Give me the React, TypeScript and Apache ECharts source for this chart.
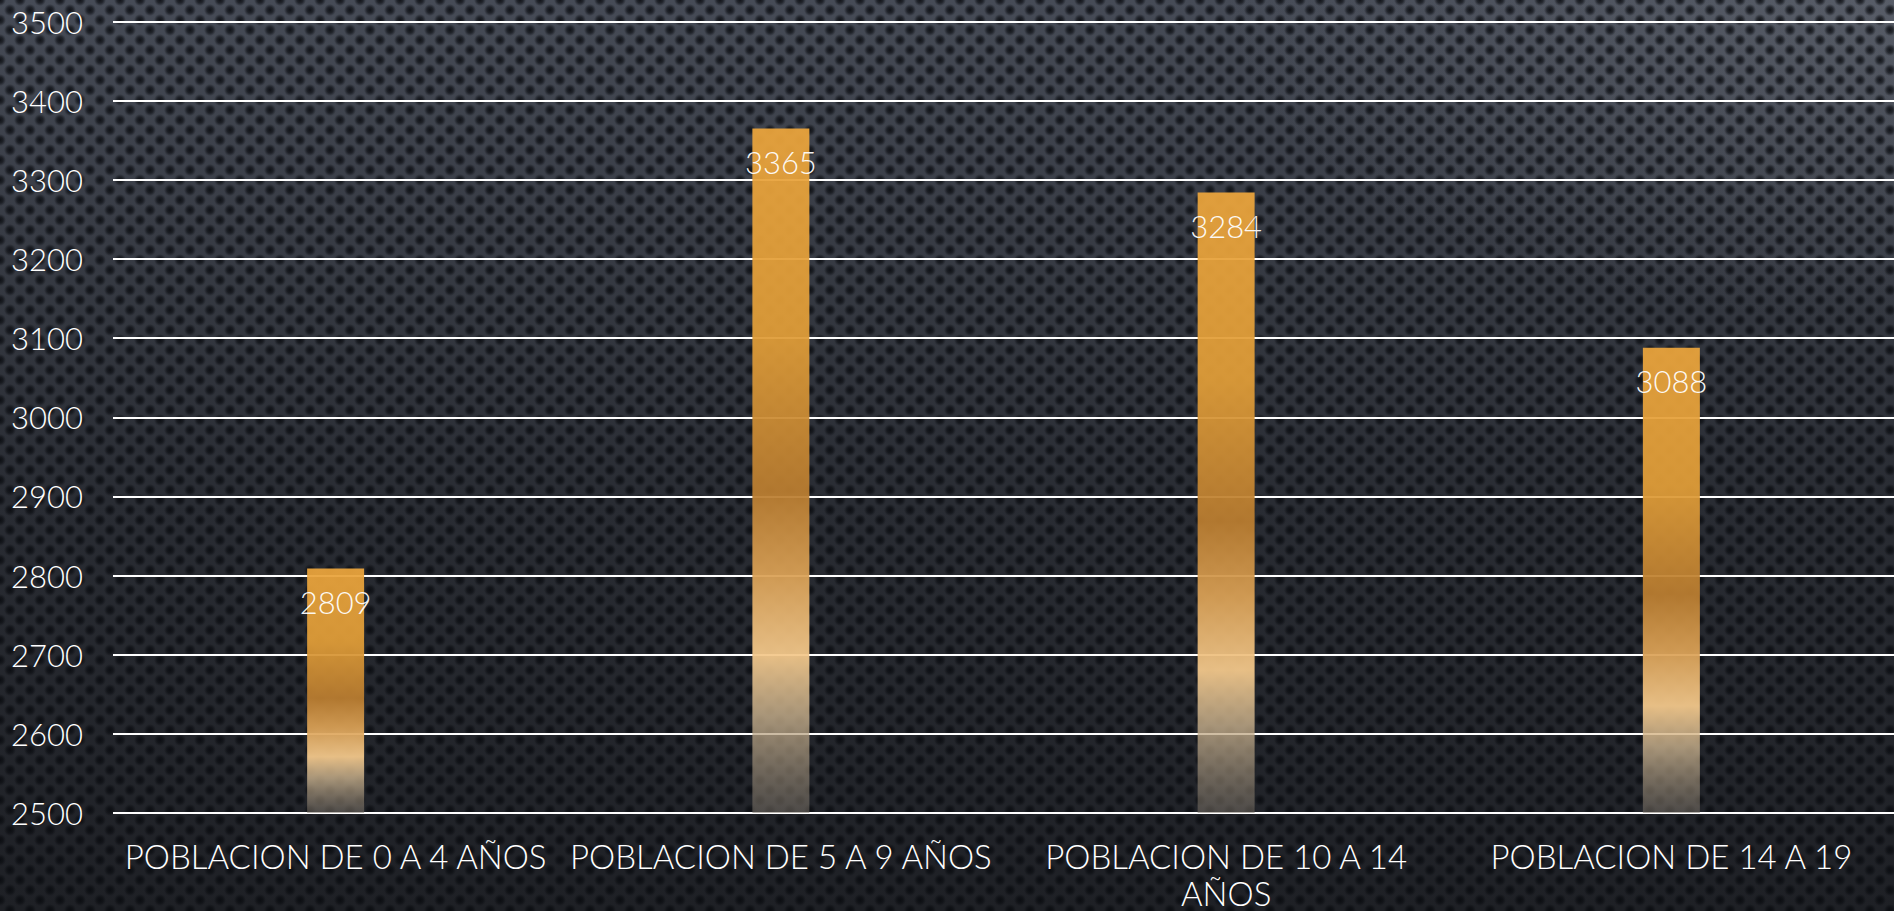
import React, { useEffect, useRef } from "react";
import * as echarts from "echarts";

const categories = [
  "POBLACION DE 0 A 4 AÑOS",
  "POBLACION DE 5 A 9 AÑOS",
  "POBLACION DE 10 A 14\nAÑOS",
  "POBLACION DE 14 A 19",
];
const values = [2809, 3365, 3284, 3088];
const yMin = 2500;
const yMax = 3500;
const yStep = 100;

const FONT = "Lato, 'Noto Sans', sans-serif";

export default function App() {
  const ref = useRef<HTMLDivElement>(null);
  useEffect(() => {
    if (!ref.current) return;
    const chart = echarts.init(ref.current, null, { renderer: "svg" });
    chart.setOption({
      animation: false,
      backgroundColor: "transparent",
      grid: { left: 113, right: 0, top: 21.7, bottom: 95.3, containLabel: false },
      xAxis: {
        type: "category",
        data: categories,
        axisLine: { show: false },
        axisTick: { show: false },
        axisLabel: {
          color: "#ffffff",
          fontFamily: FONT,
          fontWeight: 300,
          fontSize: 33,
          lineHeight: 37,
          margin: 24,
          interval: 0,
        },
      },
      yAxis: {
        type: "value",
        min: yMin,
        max: yMax,
        interval: yStep,
        axisLine: { show: false },
        axisTick: { show: false },
        axisLabel: {
          color: "#ffffff",
          fontFamily: FONT,
          fontWeight: 300,
          fontSize: 31,
          margin: 30,
          formatter: (v: number) => String(v),
        },
        splitLine: { lineStyle: { color: "#ffffff", width: 2 } },
      },
      series: [
        {
          type: "bar",
          data: values,
          barWidth: "12.8%",
          itemStyle: {
            opacity: 0.94,
            color: new echarts.graphic.LinearGradient(0, 0, 0, 1, [
              { offset: 0, color: "#EAA43C" },
              { offset: 0.3, color: "#E09D38" },
              { offset: 0.53, color: "#BA7D30" },
              { offset: 0.65, color: "#D9A055" },
              { offset: 0.77, color: "#F3C88B" },
              { offset: 0.86, color: "rgba(200,176,140,0.85)" },
              { offset: 1, color: "rgba(120,112,102,0.55)" },
            ]),
          },
          label: {
            show: true,
            position: "insideTop",
            distance: 18,
            color: "#ffffff",
            fontFamily: FONT,
            fontWeight: 300,
            fontSize: 31,
          },
        },
      ],
    });
    return () => chart.dispose();
  }, []);

  const bg = [
    "radial-gradient(circle at 50% 50%, rgba(8,10,14,0.85) 0px, rgba(8,10,14,0.6) 3px, rgba(8,10,14,0) 6px)",
    "radial-gradient(circle at 50% 50%, rgba(8,10,14,0.85) 0px, rgba(8,10,14,0.6) 3px, rgba(8,10,14,0) 6px)",
    "radial-gradient(ellipse at 100% 0%, rgba(120,125,135,0.35) 0%, rgba(120,125,135,0) 25%)",
    "linear-gradient(180deg, #464b56 0%, #383c45 25%, #292c33 55%, #1e2025 100%)",
  ].join(", ");

  return (
    <div
      style={{
        position: "fixed",
        left: 0,
        top: 0,
        width: 1894,
        height: 911,
        backgroundImage: bg,
        backgroundSize: "20px 20px, 20px 20px, 100% 100%, 100% 100%",
        backgroundPosition: "0 0, 10px 10px, 0 0, 0 0",
      }}
    >
      <div ref={ref} style={{ width: 1894, height: 911 }} />
    </div>
  );
}
